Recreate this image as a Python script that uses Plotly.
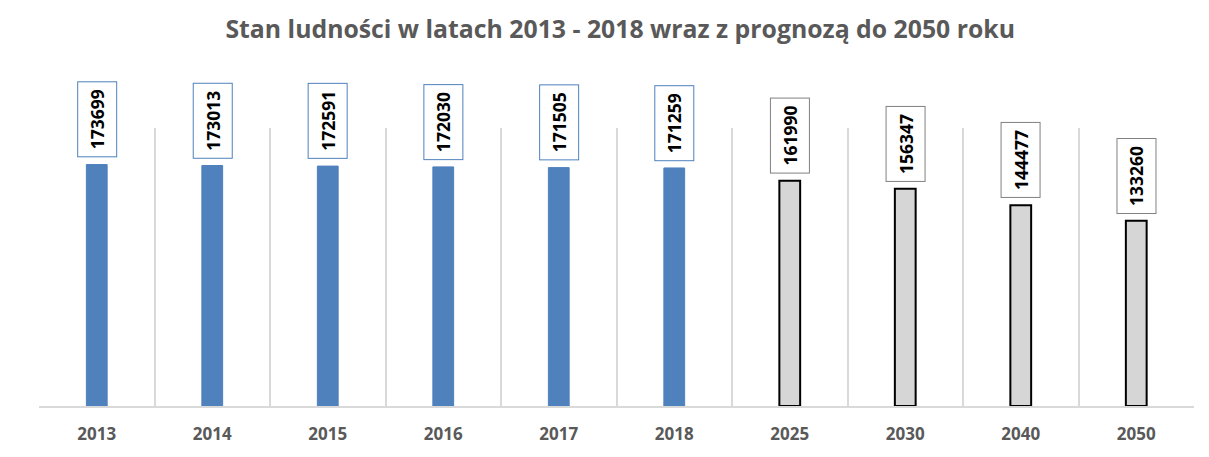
import plotly.graph_objects as go

hist_years = ["2013", "2014", "2015", "2016", "2017", "2018"]
hist_values = [173699, 173013, 172591, 172030, 171505, 171259]
fc_years = ["2025", "2030", "2040", "2050"]
fc_values = [161990, 156347, 144477, 133260]
all_years = hist_years + fc_years

title = "Stan ludności w latach 2013 - 2018 wraz z prognozą do 2050 roku"

fig = go.Figure()
fig.add_trace(go.Bar(x=hist_years, y=hist_values, width=0.18,
                     marker=dict(color="#4f81bd", line=dict(color="#4f81bd", width=1)),
                     showlegend=False, hoverinfo="x+y"))
fig.add_trace(go.Bar(x=fc_years, y=fc_values, width=0.18,
                     marker=dict(color="#d6d6d6", line=dict(color="#000000", width=2)),
                     showlegend=False, hoverinfo="x+y"))

annotations = []
for yr, v in zip(hist_years + fc_years, hist_values + fc_values):
    border = "#4f81bd" if yr in hist_years else "#808080"
    annotations.append(dict(x=all_years.index(yr), y=v, xref="x", yref="y", text=str(v),
                            showarrow=False, textangle=-90, yanchor="bottom", xanchor="center",
                            yshift=7,
                            font=dict(family="Open Sans", size=17.5, color="#000000", weight="bold"),
                            bgcolor="#ffffff", bordercolor=border, borderwidth=1, borderpad=7))

fig.update_layout(
    width=1209, height=457,
    margin=dict(l=39, r=15, t=128, b=51),
    paper_bgcolor="#ffffff", plot_bgcolor="#ffffff",
    barmode="overlay",
    title=dict(text=title, x=0.513, xanchor="center", y=0.935, yanchor="middle",
               font=dict(family="Open Sans", size=24.8, color="#595959", weight="bold")),
    xaxis=dict(type="category", categoryorder="array", categoryarray=all_years,
               tickson="boundaries", showgrid=True, gridcolor="#d9d9d9", gridwidth=1.5,
               showline=True, linecolor="#d9d9d9", linewidth=1.5, ticks="",
               ticklabelstandoff=12,
               tickfont=dict(family="Open Sans", size=17, color="#595959", weight="bold"),
               range=[-0.5, 9.5], automargin=False),
    yaxis=dict(range=[0, 200000], visible=True, showticklabels=False, showgrid=False,
               zeroline=False, showline=False, ticks="", automargin=False),
    annotations=annotations,
)

fig.write_html("out.html", config={"displayModeBar": False},
               post_script="document.body.style.margin='0';")
